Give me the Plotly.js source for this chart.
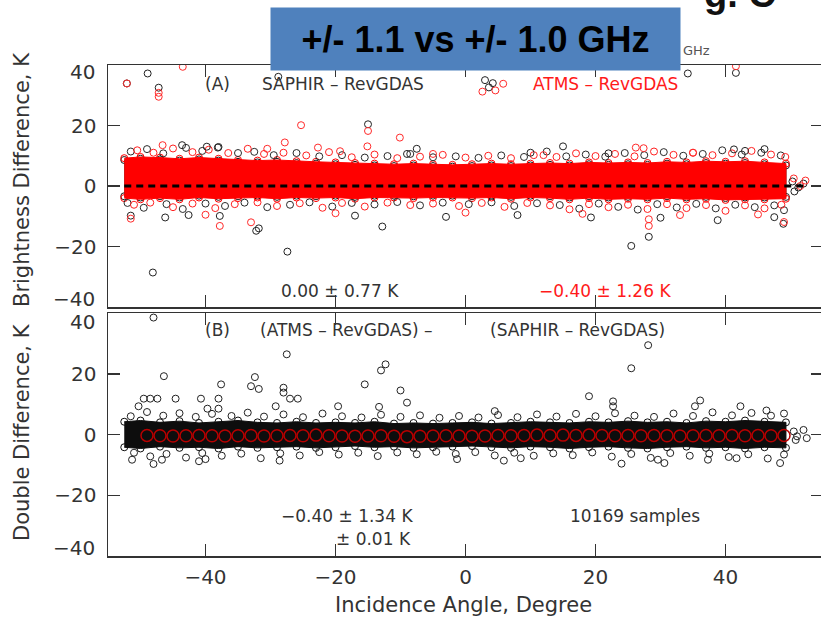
<!DOCTYPE html>
<html>
<head>
<meta charset="utf-8">
<script src="https://cdn.plot.ly/plotly-3.0.1.min.js"></script>
<style>
html,body{margin:0;padding:0;overflow:hidden;background:#fff;}
#chart{width:823px;height:619px;}
</style>
</head>
<body>
<div id="chart"></div>
<script>
// ---- Data ----
// Incidence-angle positions used for the dense-band envelopes
const bandX = [-52.5,-50,-47,-44,-41,-38,-35,-32,-29,-26,-23,-20,-17,-14,-11,-8,-5,-2,1,4,7,10,13,16,19,22,25,28,31,34,37,40,43,46,49.3];

// Panel A: ATMS - RevGDAS dense band (upper / lower edge, K)
const atmsUpper = [9.2,9.6,9.4,9.0,9.4,9.0,8.6,8.4,8.6,8.2,8.0,7.8,7.6,7.4,7.2,7.4,7.2,7.0,7.2,7.4,7.2,7.4,7.6,7.4,7.8,7.6,7.8,7.6,8.0,7.8,8.2,8.0,8.2,7.8,7.4];
const atmsLower = [-4.0,-4.4,-4.0,-4.4,-3.8,-4.2,-4.0,-3.8,-4.2,-3.8,-4.0,-3.8,-4.2,-3.8,-3.8,-4.0,-3.8,-3.8,-4.0,-3.8,-4.2,-3.8,-4.0,-4.4,-4.0,-4.4,-4.2,-4.4,-4.0,-4.4,-4.2,-4.6,-4.4,-4.4,-4.2];
// Panel A: SAPHIR - RevGDAS dense band (mostly hidden under the red band)
const saphirUpper = [8.6,9.0,8.8,8.4,8.8,8.4,8.0,7.8,8.0,7.6,7.4,7.2,7.0,6.8,6.6,6.8,6.6,6.4,6.6,6.8,6.6,6.8,7.0,6.8,7.2,7.0,7.2,7.0,7.4,7.2,7.6,7.4,7.6,7.2,6.8];
const saphirLower = [-3.4,-3.8,-3.4,-3.8,-3.2,-3.6,-3.4,-3.2,-3.6,-3.2,-3.4,-3.2,-3.6,-3.2,-3.2,-3.4,-3.2,-3.2,-3.4,-3.2,-3.6,-3.2,-3.4,-3.8,-3.4,-3.8,-3.6,-3.8,-3.4,-3.8,-3.6,-4.0,-3.8,-3.8,-3.6];

// Panel A: circles along the band edges
const saphirEdgeX = [-51.5,-49,-46.5,-43,-40.5,-38,-35,-32.5,-29.5,-26,-22.5,-19,-15.5,-12,-8.5,-5,-1.5,2,5.5,9,12.5,15.5,18.5,21.5,24.5,27.5,30.5,33.5,36.5,39.5,42.5,45.5,48.5,
  -52,-49.5,-46,-43.5,-40,-37,-34,-30.5,-27,-24,-20.5,-17.5,-14,-10.5,-7,-3.5,0.5,4,7.5,11,14.5,17.5,20.5,23.5,26.5,29.5,32.5,35.5,38.5,41.5,44.5,47.5,49];
const saphirEdgeY = [11.4,12.2,10.8,12.6,11.6,12.9,10.9,11.3,10.2,10.9,9.8,10.2,9.4,9.9,10.6,9.5,9.8,9.3,10.1,9.6,11.4,9.8,10.4,9.7,10.9,10.2,11.2,10.0,10.6,11.8,10.4,11.0,10.1,
  -5.6,-7.2,-6.0,-7.6,-5.8,-6.6,-5.5,-7.0,-6.2,-5.4,-6.8,-5.6,-6.1,-5.3,-6.4,-5.5,-6.0,-5.4,-6.6,-5.7,-6.3,-7.5,-5.8,-6.9,-7.8,-6.0,-7.1,-5.9,-7.4,-6.2,-7.0,-6.4,-8.0];
const atmsEdgeX = [-50.5,-48,-45,-42,-39.5,-36.5,-33.5,-31,-28,-24.5,-21,-17.5,-14,-10.5,-7,-3.5,0,3.5,7,10.5,14,17,20,23,26,29,32,35,38,41,44,47,49.2,
  -51,-48.5,-45,-42,-38.5,-35.5,-32,-29,-25.5,-22,-19,-15.5,-12,-8.5,-5,-1,2.5,6,9.5,13,16,19,22,25,28,31,34,37,40,43,46,48.6];
const atmsEdgeY = [11.8,11.0,12.4,11.2,12.0,10.9,12.3,10.6,11.0,10.1,11.2,9.5,10.4,9.2,9.7,10.3,9.4,10.0,9.2,10.2,9.6,10.8,9.9,10.6,9.8,11.4,10.3,11.0,10.2,10.8,11.6,10.4,9.6,
  -6.2,-5.5,-7.0,-5.8,-7.3,-6.0,-5.4,-6.6,-5.7,-7.2,-5.6,-6.8,-5.5,-6.3,-5.8,-6.6,-5.6,-6.9,-5.6,-6.4,-7.7,-6.0,-7.0,-6.2,-7.6,-6.0,-7.3,-6.3,-8.2,-6.4,-7.4,-6.2];

// Panel A: isolated points outside the band
const saphirOutX = [-52.1,-48.9,-47.2,-28.8,3.0,4.2,3.6,34.2,41.6,-15.0,15.0,-48.1,-32.2,-31.8,-27.4,-12.8,25.5,28.2,-37.8,-51.5,-46.2,-42.6,19.3,38.8,47.5,-43.6,-39.8,-38.1,-7.5,41.3,43.0,46.0,-9.0,10.0,22.0,50.3,51.2,52.0,50.6,-17.0,-3.0,8.0,30.0,48.9];
const saphirOutY = [33.9,37.2,32.5,36.1,35.0,34.0,32.6,37.2,37.4,20.4,13.1,-28.6,-14.8,-14.0,-21.7,-13.4,-19.8,-16.8,-9.9,-9.8,-10.4,-9.6,-10.4,-11.3,-10.3,13.5,13.0,12.7,12.3,12.1,11.6,12.2,10.6,11.0,10.8,1.5,-0.5,0.8,-1.8,-9.8,-10.2,-9.6,-10.5,-12.5];
const atmsOutX = [-52.1,-43.5,-47.2,-47.2,2.6,4.6,5.8,41.6,-25.3,-15.0,-15.1,-10.1,-27.8,28.2,28.2,-37.8,-51.5,49.0,-46.6,-30.5,-22.7,-19.3,26.2,27.4,35.0,-5.0,12.0,-40.0,-20.0,0.0,18.0,33.0,45.0,50.5,51.5,52.3,-33.0];
const atmsOutY = [33.9,39.4,30.8,29.5,31.2,31.6,33.8,39.6,20.1,18.2,13.1,16.0,14.4,-13.2,-11.0,-13.2,-10.8,-11.9,13.5,12.3,12.7,11.5,12.7,12.5,11.0,10.6,10.2,-9.5,-9.0,-8.8,-9.2,-9.6,-9.4,2.5,0.0,1.8,-12.0];

// Panel B: double difference dense band
const ddUpper = [4.2,4.6,4.0,4.4,3.8,4.2,4.6,4.0,3.8,4.2,3.8,4.0,3.8,4.2,3.6,3.8,3.6,3.8,4.0,3.6,3.8,4.2,4.0,3.8,4.2,4.0,4.4,4.0,4.2,3.8,4.4,4.2,4.6,4.2,4.0];
const ddLower = [-4.2,-4.6,-4.0,-4.4,-4.2,-4.6,-4.0,-4.4,-4.2,-4.0,-4.4,-4.2,-3.8,-4.2,-4.0,-4.4,-4.2,-4.0,-3.8,-4.2,-4.4,-4.0,-4.2,-4.6,-4.2,-4.0,-4.4,-4.6,-4.2,-4.0,-4.4,-4.2,-4.6,-4.2,-4.4];
const ddEdgeX = [-51.5,-49,-46.5,-44,-41.5,-39,-36,-33.5,-31,-28,-25,-22,-19,-16,-13,-10,-7,-4,-1,2,5,8,11,14,17,20,23,26,29,32,35,38,41,44,47,49,
  -51,-48.5,-46,-43,-40.5,-37.5,-34.5,-31.5,-28.5,-25.5,-22.5,-19.5,-16.5,-13.5,-10.5,-7.5,-4.5,-1.5,1.5,4.5,7.5,10.5,13.5,16.5,19.5,22.5,25.5,28.5,31.5,34.5,37.5,40.5,43.5,46.5,49];
const ddEdgeY = [6.0,7.4,6.2,7.0,5.8,6.8,6.1,7.2,5.9,6.6,5.7,6.9,6.0,5.6,6.5,5.8,6.3,5.5,6.1,5.6,6.4,5.7,6.6,5.9,6.8,6.0,7.0,6.2,5.8,6.9,6.1,7.3,6.3,7.1,6.2,6.9,
  -6.0,-7.2,-6.4,-7.6,-6.1,-7.0,-6.3,-7.8,-6.2,-6.9,-5.8,-6.6,-6.0,-7.1,-5.9,-6.5,-5.7,-6.4,-5.8,-6.9,-6.0,-7.0,-6.2,-6.8,-5.9,-7.3,-6.4,-7.7,-6.1,-7.0,-6.3,-7.4,-6.5,-7.9,-6.6];
const ddOutX = [-48,28.1,-27.5,-12.3,-13,25.5,-46.4,-32.4,-37.6,-33,-31.8,-15.5,-28,-28,-10,19,-38,-38,-40.7,-27,-25.8,-9,22.7,22.7,36.1,42.3,35.3,-19.6,-29.2,-13.3,-39.7,-49.5,-48.5,-47.4,-50.3,-44.6,4.5,46.3,-48,-46.7,5.9,8.5,24,30.6,48.4,29.6,-28.6,-1.3,37.3,41.7,-51.3,-41,-40,50.5,51,52,52.5,50.8];
const ddOutY = [38.5,29.4,26.4,23.1,21.1,21.8,19.2,18.9,16.5,15.9,15,16.5,15.4,13.8,14.5,12.6,11.8,8.5,11.8,11.8,11.8,10.5,10.9,9.3,11.2,9.3,9.3,9.3,9.3,9.1,8.5,11.8,11.8,11.8,9.3,11.8,7.7,7.9,-9.7,-8.3,-8.6,-7.8,-9.6,-9.4,-9.4,-8.3,-8.6,-8.1,-8.3,-7.8,-8.3,-8.8,-8.1,1.0,-0.6,1.5,-1.2,-1.8];

// Panel B: binned mean double difference (red circles)
const binX = [-49,-47,-45,-43,-41,-39,-37,-35,-33,-31,-29,-27,-25,-23,-21,-19,-17,-15,-13,-11,-9,-7,-5,-3,-1,1,3,5,7,9,11,13,15,17,19,21,23,25,27,29,31,33,35,37,39,41,43,45,47,49];
const binMean = [-0.3,-0.4,-0.5,-0.4,-0.3,-0.4,-0.5,-0.4,-0.3,-0.5,-0.4,-0.3,-0.4,-0.2,-0.4,-0.5,-0.6,-0.5,-0.4,-0.6,-0.7,-0.6,-0.5,-0.4,-0.5,-0.6,-0.5,-0.3,-0.4,-0.3,-0.2,-0.3,-0.2,-0.3,-0.2,-0.3,-0.4,-0.3,-0.4,-0.3,-0.4,-0.5,-0.4,-0.3,-0.4,-0.3,-0.4,-0.3,-0.4,-0.3];

const zeroLineX = [-52.5, 52.2];
const zeroLineY = [0, 0];

const xTicks = [-40,-20,0,20,40];
const yTicksLabeled = [-20,0,20];
const yTickEnds = [-40,40];

// ---- Helpers ----
function envelope(x, up, lo){
  return {x: x.concat(x.slice().reverse()), y: up.concat(lo.slice().reverse())};
}
const FONT = 'DejaVu Sans';
const TXT = '#333333';
const RED = '#ff1a1a';
const minus = v => v<0 ? '\u2212'+Math.abs(v) : String(v);

const eS = envelope(bandX, saphirUpper, saphirLower);
const eA = envelope(bandX, atmsUpper, atmsLower);
const eD = envelope(bandX, ddUpper, ddLower);

function band(e, color, xa, ya){
  return {x:e.x, y:e.y, xaxis:xa, yaxis:ya, type:'scatter', mode:'lines+markers',
    fill:'toself', fillcolor:color, line:{color:color, width:1},
    marker:{symbol:'circle-open', size:7, color:color, line:{width:1, color:color}},
    hoverinfo:'skip', showlegend:false};
}
function pts(x, y, color, xa, ya, size, lw){
  return {x:x, y:y, xaxis:xa, yaxis:ya, type:'scatter', mode:'markers',
    marker:{symbol:'circle-open', size:size||7, color:color, line:{width:lw||1, color:color}},
    showlegend:false};
}

const traces = [
  band(eS, '#1c1c1c', 'x', 'y'),
  band(eA, '#ff0000', 'x', 'y'),
  pts(saphirEdgeX, saphirEdgeY, '#2a2a2a', 'x', 'y'),
  pts(atmsEdgeX, atmsEdgeY, '#ff2020', 'x', 'y'),
  pts(saphirOutX, saphirOutY, '#222222', 'x', 'y'),
  pts(atmsOutX, atmsOutY, '#ff2a2a', 'x', 'y'),
  {x:zeroLineX, y:zeroLineY, xaxis:'x', yaxis:'y', type:'scatter', mode:'lines',
   line:{color:'#000', width:3, dash:'7px,5px'}, showlegend:false},
  band(eD, '#0d0d0d', 'x2', 'y2'),
  pts(ddEdgeX, ddEdgeY, '#222222', 'x2', 'y2'),
  pts(ddOutX, ddOutY, '#222222', 'x2', 'y2'),
  pts(binX, binMean, '#b80000', 'x2', 'y2', 12, 1.5)
];

const PW = 715, PH = 491, L = 108, T = 65;
function px(p){ return (p - L)/PW; }
function py(p){ return (T + PH - p)/PH; }

const xCommon = {
  range:[-55,55], showgrid:false, zeroline:false, showline:true, mirror:'ticks',
  linecolor:'#333', linewidth:1.5, ticks:'inside', ticklen:12, tickwidth:1.5, tickcolor:'#333',
  tickvals:xTicks, ticktext:xTicks.map(minus),
  tickfont:{family:FONT, size:20, color:TXT}
};
const yCommon = {
  range:[-40,40], showgrid:false, zeroline:false, showline:true, mirror:'ticks',
  linecolor:'#333', linewidth:1.5, ticks:'inside', ticklen:12, tickwidth:1.5, tickcolor:'#333',
  tickvals:yTicksLabeled, ticktext:yTicksLabeled.map(minus),
  tickfont:{family:FONT, size:20, color:TXT}, ticklabelstandoff:6
};

const ann = (x,y,text,opts)=>Object.assign({x:x,y:y,text:text,showarrow:false,
  xanchor:'center', yanchor:'middle',
  font:{family:FONT,size:17,color:TXT}}, opts||{});

const annotations = [
  // panel A
  ann(-38.2, 33.6, '(A)', {xref:'x', yref:'y'}),
  ann(-18.8, 33.6, 'SAPHIR \u2013 RevGDAS', {xref:'x', yref:'y'}),
  ann(21.6, 33.6, 'ATMS \u2013 RevGDAS', {xref:'x', yref:'y', font:{family:FONT,size:17,color:RED}}),
  ann(-19.3, -34.8, '0.00 \u00b1 0.77 K', {xref:'x', yref:'y'}),
  ann(21.5, -34.8, '\u22120.40 \u00b1 1.26 K', {xref:'x', yref:'y', font:{family:FONT,size:17,color:RED}}),
  // panel B
  ann(-38.2, 34.5, '(B)', {xref:'x2', yref:'y2'}),
  ann(-18.3, 34.5, '(ATMS \u2013 RevGDAS) \u2013', {xref:'x2', yref:'y2'}),
  ann(17.2, 34.5, '(SAPHIR \u2013 RevGDAS)', {xref:'x2', yref:'y2'}),
  ann(-18.3, -26.7, '\u22120.40 \u00b1 1.34 K', {xref:'x2', yref:'y2'}),
  ann(-14.2, -34.3, '\u00b1 0.01 K', {xref:'x2', yref:'y2'}),
  ann(26.1, -26.7, '10169 samples', {xref:'x2', yref:'y2'}),
  // end tick labels of the y axes (set slightly inward, as in the reference)
  ann(px(97), py(72), minus(yTickEnds[1]), {xref:'paper', yref:'paper', xanchor:'right', font:{family:FONT,size:20,color:TXT}}),
  ann(px(97), py(299), minus(yTickEnds[0]), {xref:'paper', yref:'paper', xanchor:'right', font:{family:FONT,size:20,color:TXT}}),
  ann(px(97), py(322), minus(yTickEnds[1]), {xref:'paper', yref:'paper', xanchor:'right', font:{family:FONT,size:20,color:TXT}}),
  ann(px(97), py(548), minus(yTickEnds[0]), {xref:'paper', yref:'paper', xanchor:'right', font:{family:FONT,size:20,color:TXT}}),
  // axis titles
  ann(px(22), py(180), 'Brightness Difference, K', {xref:'paper', yref:'paper', textangle:-90,
     font:{family:FONT,size:21,color:TXT}}),
  ann(px(22), py(432), 'Double Difference, K', {xref:'paper', yref:'paper', textangle:-90,
     font:{family:FONT,size:21,color:TXT}}),
  ann(px(463.5), py(605), 'Incidence Angle, Degree', {xref:'paper', yref:'paper',
     font:{family:FONT,size:21,color:TXT}}),
  // slide decorations
  ann(px(702), py(17), 'g. C', {xref:'paper', yref:'paper', xanchor:'left', yanchor:'bottom',
     font:{family:'Liberation Sans', size:38, color:'#111', weight:'bold'}}),
  ann(px(681), py(50), 'GHz', {xref:'paper', yref:'paper', xanchor:'left',
     font:{family:FONT, size:13, color:'#555'}}),
  ann(px(475.5), py(39), '+/- 1.1 vs +/- 1.0 GHz', {xref:'paper', yref:'paper',
     bgcolor:'#4F81BD', width:409, height:62, borderpad:0,
     font:{family:'Liberation Sans', size:36, color:'#000', weight:'bold'}})
];

const layout = {
  width:823, height:619,
  margin:{l:L, r:0, t:T, b:619-T-PH},
  paper_bgcolor:'#fff', plot_bgcolor:'#fff',
  showlegend:false,
  xaxis: Object.assign({}, xCommon, {anchor:'y', showticklabels:false, domain:[0,1]}),
  yaxis: Object.assign({}, yCommon, {anchor:'x', domain:[py(307),1]}),
  xaxis2: Object.assign({}, xCommon, {anchor:'y2', domain:[0,1], ticklabelstandoff:2}),
  yaxis2: Object.assign({}, yCommon, {anchor:'x2', domain:[0, py(313)]}),
  annotations: annotations
};

Plotly.newPlot('chart', traces, layout, {displayModeBar:false, staticPlot:true});
</script>
</body>
</html>
